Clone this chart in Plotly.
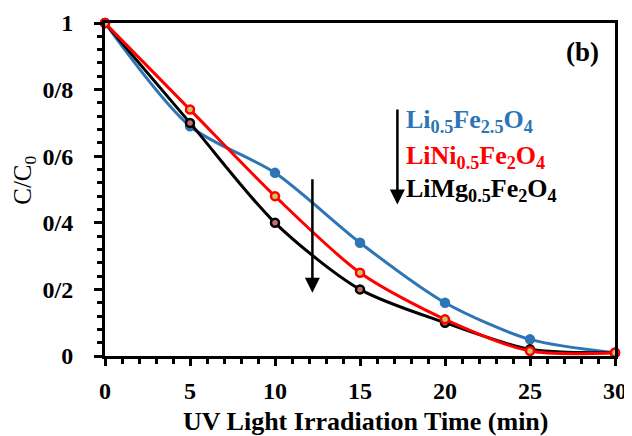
import plotly.graph_objects as go

time_min = [0, 5, 10, 15, 20, 25, 30]
li_fe = [1.0, 0.69, 0.55, 0.34, 0.16, 0.05, 0.01]
li_ni = [1.0, 0.74, 0.48, 0.25, 0.11, 0.015, 0.01]
li_mg = [1.0, 0.70, 0.40, 0.20, 0.10, 0.02, 0.01]

y_tickvals = [0, 0.2, 0.4, 0.6, 0.8, 1.0]
y_ticktext = ["0", "0/2", "0/4", "0/6", "0/8", "1"]
x_tickvals = [0, 5, 10, 15, 20, 25, 30]

series = [
    ("Li<sub>0.5</sub>Fe<sub>2.5</sub>O<sub>4</sub>", li_fe, "#2E75B6", "#2E75B6"),
    ("LiMg<sub>0.5</sub>Fe<sub>2</sub>O<sub>4</sub>", li_mg, "#000000", "#c07070"),
    ("LiNi<sub>0.5</sub>Fe<sub>2</sub>O<sub>4</sub>", li_ni, "#FF0000", "#c8c860"),
]

font = "Liberation Serif"
fig = go.Figure()
for name, ys, col, fill in series:
    fig.add_trace(go.Scatter(
        x=time_min, y=ys, name=name, mode="lines+markers",
        line=dict(color=col, width=3, shape="spline", smoothing=0.8),
        marker=dict(size=8, color=fill, line=dict(color=col, width=2.5)),
        cliponaxis=False, showlegend=False,
    ))

# page has an 8px body margin, so the figure is 8px smaller than the window
fig.update_layout(
    width=624, height=428,
    margin=dict(l=97, r=17, t=15, b=80),
    paper_bgcolor="white", plot_bgcolor="white",
    font=dict(family=font, size=24, color="black"),
    xaxis=dict(
        range=[0, 30], tickvals=x_tickvals, showgrid=False, zeroline=False, automargin=False,
        showline=True, linecolor="black", linewidth=3, mirror=True,
        ticks="outside", ticklen=7, tickwidth=3, tickcolor="black", ticklabelstandoff=4,
        minor=dict(dtick=1, ticks="outside", ticklen=5, tickwidth=2.5, tickcolor="black"),
        tickfont=dict(family=font, size=24, weight="bold"),
    ),
    yaxis=dict(
        range=[0, 1], tickvals=y_tickvals, ticktext=y_ticktext, showgrid=False, zeroline=False, automargin=False,
        showline=True, linecolor="black", linewidth=3, mirror=True,
        ticks="outside", ticklen=8, tickwidth=3, tickcolor="black", ticklabelstandoff=16,
        minor=dict(dtick=0.04, ticks="outside", ticklen=5, tickwidth=2.5, tickcolor="black"),
        tickfont=dict(family=font, size=24, weight="bold"),
    ),
)

# axis titles (paper coords are relative to the plot area)
fig.add_annotation(x=0.51, y=-0.197, xref="paper", yref="paper",
                   text="<b>UV Light Irradiation Time (min)</b>", showarrow=False,
                   xanchor="center", yanchor="middle", font=dict(family=font, size=26))
fig.add_annotation(x=-0.157, y=0.529, xref="paper", yref="paper",
                   text="C/C<sub>0</sub>", showarrow=False, textangle=-90,
                   xanchor="center", yanchor="middle", font=dict(family=font, size=25))

# arrows
fig.add_annotation(x=12.2, y=0.19, ax=12.2, ay=0.535, xref="x", yref="y", axref="x", ayref="y",
                   text="", showarrow=True, arrowhead=2, arrowsize=1.2, arrowwidth=2.5, arrowcolor="black")
fig.add_annotation(x=17.2, y=0.455, ax=17.2, ay=0.745, xref="x", yref="y", axref="x", ayref="y",
                   text="", showarrow=True, arrowhead=2, arrowsize=1.2, arrowwidth=2.5, arrowcolor="black")

legend_rows = [
    ("Li<sub>0.5</sub>Fe<sub>2.5</sub>O<sub>4</sub>", "#2E75B6", 0.705),
    ("LiNi<sub>0.5</sub>Fe<sub>2</sub>O<sub>4</sub>", "#FF0000", 0.598),
    ("LiMg<sub>0.5</sub>Fe<sub>2</sub>O<sub>4</sub>", "#000000", 0.50),
]
for txt, col, yy in legend_rows:
    fig.add_annotation(x=17.6, y=yy, xref="x", yref="y", text="<b>" + txt + "</b>",
                       showarrow=False, xanchor="left", yanchor="middle",
                       font=dict(family=font, size=26, color=col))

fig.add_annotation(x=28.1, y=0.913, xref="x", yref="y", text="<b>(b)</b>", showarrow=False,
                   xanchor="center", yanchor="middle", font=dict(family=font, size=27, color="black"))

fig.write_html("out.html")
